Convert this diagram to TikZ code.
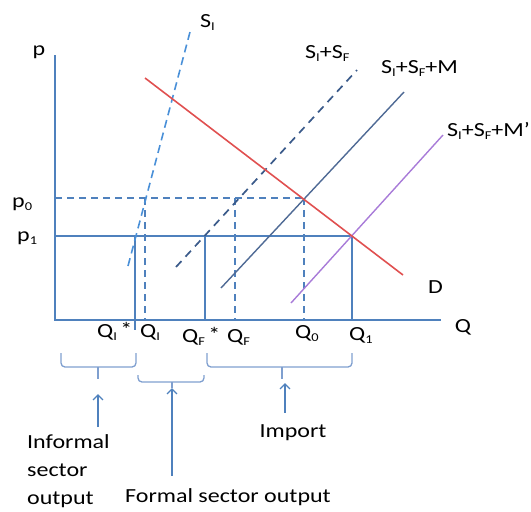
\documentclass[tikz,border=0pt]{standalone}
\usepackage{fontspec}
\setmainfont{Carlito}[FakeStretch=1.2]
\usetikzlibrary{
    positioning,
    arrows.meta
}
\definecolor{ejeazul}{HTML}{4F81BD}
\definecolor{siazul}{HTML}{4A90D8}
\definecolor{drojo}{HTML}{E05050}
\definecolor{sfnavy}{HTML}{3A5A8A}
\definecolor{smgris}{HTML}{4F6A95}
\definecolor{mmorado}{HTML}{A87BD8}
\definecolor{llave}{HTML}{7F9FCF}
\newcommand\lo[1]{\raisebox{-0.4ex}{\fontsize{12}{12}\selectfont #1}}
\newcommand\estrella{\,\raisebox{0.1ex}{*}}
\tikzset{
    >=Stealth,
    eje/.style={ejeazul, line width=1.6pt},
    guia/.style={ejeazul, line width=1.4pt, dash pattern=on 7pt off 5pt},
    txt/.style={inner sep=0pt, font=\fontsize{20}{28}\selectfont},
    llavebox/.style={llave, line width=1.3pt, rounded corners=4pt},
    flecha/.style={ejeazul, line width=1.4pt, -{Straight Barb[length=5pt, width=10pt]}}
}
\begin{document}
\begin{tikzpicture}[
    x=1pt,
    y=-1pt
]
    \useasboundingbox (0,0) rectangle (531,512);

    % Ejes
    \coordinate (O)  at (55,320);
    \coordinate (py) at (55,55);
    \coordinate (qx) at (441,320);
    \draw[eje] (py) -- (O) -- (qx);
    \node[txt, anchor=base] (p) at (39,55)  {p};
    \node[txt, anchor=base] (Q) at (463,332) {Q};

    % Curvas
    \coordinate (si0) at (128,266);
    \coordinate (si1) at (190,32);
    \coordinate (sf0) at (176,267);
    \coordinate (sf1) at (357,70);
    \coordinate (sm0) at (221,288);
    \coordinate (sm1) at (404,92);
    \coordinate (sn0) at (291,303);
    \coordinate (sn1) at (443,135);
    \coordinate (d0)  at (145,78);
    \coordinate (d1)  at (403,275);

    % Equilibrios
    \coordinate (e0) at (304,198);
    \coordinate (e1) at (352,236);
    \coordinate (p0) at (55,198);
    \coordinate (p1) at (55,236);

    % Precios y cantidades
    \draw[guia] (p0) -- (e0);
    \draw[guia] (145,198) -- (145,320);
    \draw[guia] (235,198) -- (235,320);
    \draw[guia] (e0) -- (e0 |- O);
    \draw[eje] (p1) -- (e1);
    \draw[eje] (135,236) -- (135,330);
    \draw[eje] (205,236) -- (205,320);
    \draw[eje] (e1) -- (e1 |- O);

    \draw[siazul, line width=1.6pt, dash pattern=on 8pt off 5pt] (si0) -- (si1);
    \draw[sfnavy, line width=1.7pt, dash pattern=on 8pt off 6pt] (sf0) -- (sf1);
    \draw[smgris, line width=1.4pt] (sm0) -- (sm1);
    \draw[mmorado, line width=1.4pt] (sn0) -- (sn1);
    \draw[drojo, line width=1.6pt] (d0) -- (d1);

    % Etiquetas
    \node[txt, anchor=base west] (lsi)  at (200,27)  {S\lo{I}};
    \node[txt, anchor=base west] (lsf)  at (305,58)  {S\lo{I}+S\lo{F}};
    \node[txt, anchor=base west] (lsm)  at (381,73)  {S\lo{I}+S\lo{F}+M};
    \node[txt, anchor=base west] (lsn)  at (447,136) {S\lo{I}+S\lo{F}+M’};
    \node[txt, anchor=base west] (ld)   at (428,293) {D};
    \node[txt, anchor=base west] (lp0)  at (12,207)  {p\lo{0}};
    \node[txt, anchor=base west] (lp1)  at (17,241)  {p\lo{1}};
    \node[txt, anchor=base west] (lqi0) at (97,337)  {Q\lo{I}\estrella};
    \node[txt, anchor=base west] (lqi)  at (140,337) {Q\lo{I}};
    \node[txt, anchor=base west] (lqf0) at (182,342) {Q\lo{F}\estrella};
    \node[txt, anchor=base west] (lqf)  at (227,342) {Q\lo{F}};
    \node[txt, anchor=base west] (lq0)  at (295,338) {Q\lo{0}};
    \node[txt, anchor=base west] (lq1)  at (349,340) {Q\lo{1}};

    % Llaves
    \coordinate (tI) at (98,379);
    \coordinate (tF) at (172,388);
    \coordinate (tM) at (282,379);
    \draw[llavebox] (61,353) |- (tI |- 0,367) -| (136,353);
    \draw[llave, line width=1.3pt] (tI |- 0,367) -- (tI);
    \draw[llavebox] (138,375) |- (tF |- 0,382) -| (204,375);
    \draw[llave, line width=1.3pt] (tF |- 0,382) -- (tF);
    \draw[llavebox] (207,353) |- (tM |- 0,367) -| (352,353);
    \draw[llave, line width=1.3pt] (tM |- 0,367) -- (tM);

    % Textos y flechas
    \node[txt, anchor=north west, align=left] (inf) at (27,434)
        {Informal\\sector\\output};
    \node[txt, anchor=base] (fso) at (228,502) {Formal sector output};
    \node[txt, anchor=base] (imp) at (293,437) {Import};

    \draw[flecha] ([yshift=7pt]inf.north west -| tI) -- ([yshift=-15pt]tI);
    \draw[flecha] ([yshift=12pt]fso.north -| tF) -- (tF);
    \draw[flecha] ([yshift=11pt]imp.north -| 285,0) -- ([yshift=-4pt]285,379);

\end{tikzpicture}
\end{document}
